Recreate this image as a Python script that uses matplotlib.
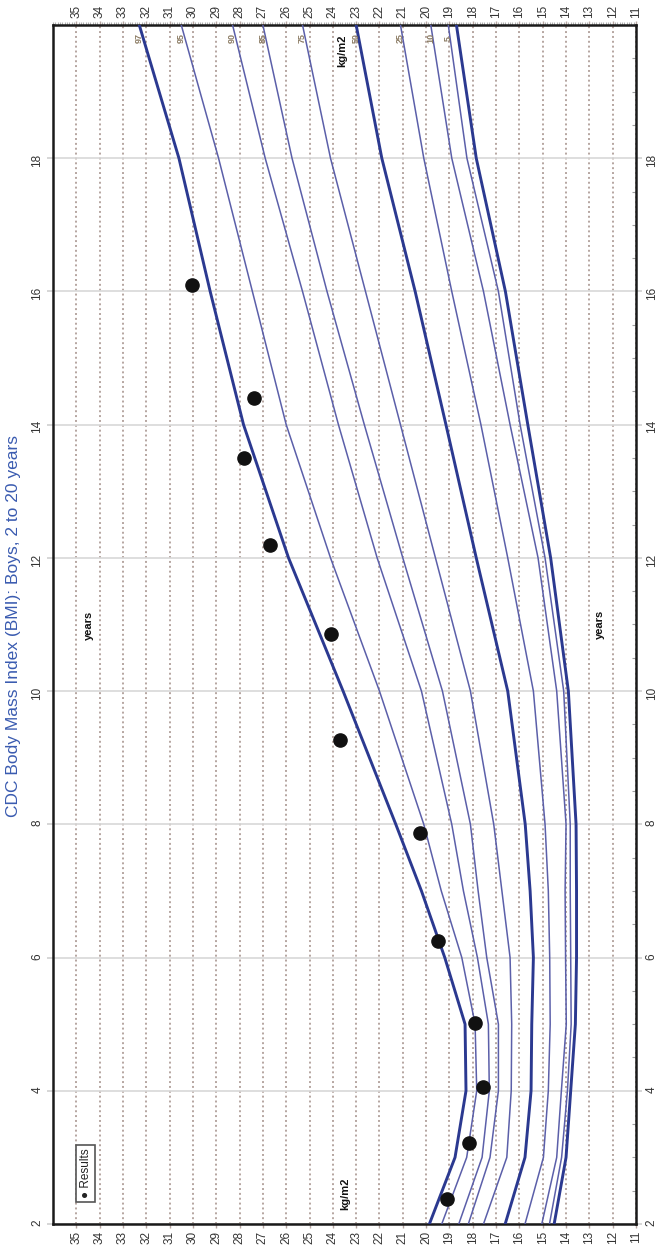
import numpy as np
import matplotlib
matplotlib.use("Agg")
import matplotlib.pyplot as plt
from matplotlib.ticker import MultipleLocator

plt.rcParams['font.family'] = ['Liberation Sans', 'DejaVu Sans']

ages = [2, 3, 4, 5, 6, 7, 8, 10, 12, 14, 16, 18, 20]

# BMI percentile curves (kg/m2), boys
p97 = [19.86, 18.76, 18.29, 18.33, 19.20, 20.20, 21.30, 23.56, 25.90, 27.83, 29.26, 30.60, 32.30]
p95 = [19.33, 18.26, 17.83, 17.90, 18.47, 19.35, 20.10, 22.00, 24.10, 26.00, 27.45, 28.90, 30.50]
p90 = [18.60, 17.60, 17.29, 17.33, 17.80, 18.40, 18.90, 20.20, 22.10, 23.76, 25.30, 26.90, 28.30]
p85 = [18.19, 17.26, 16.90, 16.90, 17.40, 17.77, 18.10, 19.30, 21.00, 22.65, 24.25, 25.75, 27.00]
p75 = [17.54, 16.54, 16.35, 16.33, 16.40, 16.75, 17.10, 18.10, 19.60, 21.10, 22.60, 24.10, 25.30]
p50 = [16.61, 15.76, 15.50, 15.47, 15.40, 15.54, 15.75, 16.50, 17.85, 19.15, 20.47, 21.90, 23.00]
p25 = [15.76, 14.97, 14.76, 14.68, 14.70, 14.76, 14.90, 15.40, 16.50, 17.65, 18.90, 20.10, 21.10]
p10 = [15.04, 14.40, 14.20, 13.99, 14.02, 14.04, 14.00, 14.40, 15.20, 16.40, 17.54, 18.90, 19.80]
p5 = [14.71, 14.19, 13.94, 13.78, 13.80, 13.82, 13.82, 14.10, 14.90, 15.97, 16.90, 18.25, 19.05]
p3 = [14.51, 14.00, 13.80, 13.60, 13.55, 13.55, 13.57, 13.90, 14.66, 15.64, 16.60, 17.85, 18.70]

curves = [p3, p5, p10, p25, p50, p75, p85, p90, p95, p97]
curve_names = ['3', '5', '10', '25', '50', '75', '85', '90', '95', '97']
labelled = ['5', '10', '25', '50', '75', '85', '90', '95', '97']
thick = ['3', '50', '97']

# patient results
result_age = [2.37, 3.22, 4.05, 5.02, 6.25, 7.87, 9.26, 10.86, 12.19, 13.50, 14.40, 16.10]
result_bmi = [19.10, 18.14, 17.57, 17.90, 19.50, 20.26, 23.70, 24.10, 26.70, 27.80, 27.40, 30.05]

bmi_ticks = list(range(11, 36))
year_ticks = list(range(2, 20, 2))

title = "CDC Body Mass Index (BMI): Boys, 2 to 20 years"

# chart is drawn turned on its side: BMI runs across, age runs up
fig = plt.figure(figsize=(6.58, 12.52), dpi=100)
ax = fig.add_axes([53 / 658, 1 - 1224 / 1252, (636 - 53) / 658, (1224 - 25) / 1252])

for name, vals in zip(curve_names, curves):
    if name in thick:
        ax.plot(vals, ages, color='#2b3990', lw=2.1, solid_joinstyle='round', zorder=3)
    else:
        ax.plot(vals, ages, color='#5b5fa9', lw=1.1, solid_joinstyle='round', zorder=3)
    if name in labelled:
        ax.text(vals[-1], 19.8, name, rotation=90, ha='center', va='center',
                fontsize=6.5, fontweight='bold', color='#8a7a62', zorder=4)

ax.plot(result_bmi, result_age, 'o', color='#111111', ms=9.5, ls='none', zorder=5)

ax.set_xlim(36, 11)
ax.set_ylim(2, 20)

ax.set_xticks(bmi_ticks)
ax.set_yticks(year_ticks)
ax.xaxis.set_minor_locator(MultipleLocator(0.1))
ax.yaxis.set_minor_locator(MultipleLocator(0.5))

ax.tick_params(axis='x', which='major', top=True, bottom=True, labeltop=True,
               labelbottom=True, labelrotation=90, length=3, width=1,
               color='#b5a5a0', labelsize=8.5, labelcolor='#333333', pad=2)
ax.tick_params(axis='x', which='minor', top=True, bottom=False, length=2,
               width=0.8, color='#b0b0b0')
ax.tick_params(axis='y', which='major', left=True, right=True, labelleft=True,
               labelright=True, labelrotation=90, length=4, width=1.2,
               color='#d0d0d0', labelsize=8.5, labelcolor='#333333', pad=3)
ax.tick_params(axis='y', which='minor', left=False, right=True, direction='in',
               length=3, width=0.8, color='#a0a0a0')

ax.set_axisbelow(True)
ax.grid(axis='x', which='major', color='#b5a5a0', lw=1.4, ls=(0, (1, 1.5)))
ax.grid(axis='y', which='major', color='#d8d8d8', lw=1.2, ls='-')

for s in ax.spines.values():
    s.set_linewidth(1.8)
    s.set_color('#1a1a1a')

# unit labels
ax.text(23.47, 2.45, 'kg/m2', rotation=90, ha='center', va='center',
        fontsize=8, fontweight='bold', color='#111111')
ax.text(23.60, 19.62, 'kg/m2', rotation=90, ha='center', va='center',
        fontsize=8, fontweight='bold', color='#111111')
ax.text(34.45, 10.98, 'years', rotation=90, ha='center', va='center',
        fontsize=8, fontweight='bold', color='#111111')
ax.text(12.55, 11.0, 'years', rotation=90, ha='center', va='center',
        fontsize=8, fontweight='bold', color='#111111')

# legend box
ax.text(34.6, 2.76, '\u25cf Results', rotation=90, ha='center', va='center',
        fontsize=8.5, color='#222222', zorder=6,
        bbox=dict(boxstyle='square,pad=0.3', fc='white', ec='#555555', lw=1.2))

fig.text(14 / 658, 1 - 626 / 1252, title, rotation=90, ha='center', va='center',
         fontsize=12.5, color='#3a5bb0')

plt.savefig("out.png", dpi=100)
plt.close()
